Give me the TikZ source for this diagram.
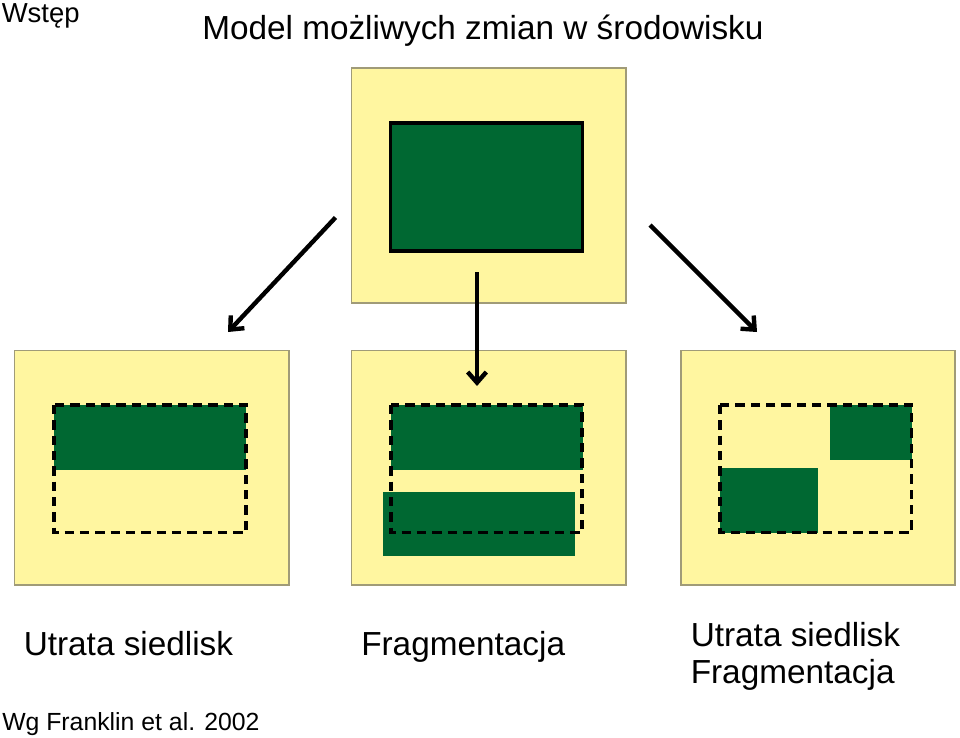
\documentclass[tikz,border=0pt]{standalone}
\usepackage{fontspec}
\setmainfont{Liberation Sans}
\usetikzlibrary{arrows.meta}
\definecolor{habyellow}{RGB}{255,246,160}
\definecolor{habgreen}{RGB}{0,104,50}
\definecolor{panelborder}{RGB}{160,155,120}
\begin{document}
\begin{tikzpicture}[x=0.75pt,y=-0.75pt,
  panel/.style={fill=habyellow,draw=panelborder,line width=0.8pt},
  habitat/.style={fill=habgreen,draw=none},
  extent/.style={draw=black,line width=2.6pt,dash pattern=on 7pt off 4.5pt},
  change/.style={line width=3.3pt,-{Straight Barb[length=8pt,width=14pt,line width=3.3pt]}},
  bigtext/.style={font=\fontsize{25}{30}\selectfont,inner sep=0pt,anchor=base west},
  lbl/.style={inner sep=0pt,anchor=base west}]
\useasboundingbox (0,0) rectangle (960,738);
\fill[white] (0,0) rectangle (960,738);
% top panel
\draw[panel] (351.5,68) rectangle (626,303);
\draw[fill=habgreen,draw=black,line width=2.6pt] (390.5,123) rectangle (582.5,251);
% bottom-left panel
\draw[panel] (14.5,350.5) rectangle (289,585);
\fill[habitat] (54,405) rectangle (246,469.5);
\draw[extent] (54,405) rectangle (246,532.5);
% bottom-middle panel
\draw[panel] (351.5,350.5) rectangle (626,585);
\fill[habitat] (391,405) rectangle (582.5,470);
\fill[habitat] (383,491.5) rectangle (575,556);
\draw[extent] (391,405) rectangle (582,532.5);
% bottom-right panel
\draw[panel] (681,350.5) rectangle (955,585);
\fill[habitat] (829.5,405) rectangle (911.5,459.5);
\fill[habitat] (720,468) rectangle (817.5,532.5);
\draw[extent] (720,405) rectangle (911.5,532.5);
% arrows
\coordinate (l0) at (335.5,217.5);
\coordinate (l1) at (228,332);
\coordinate (m0) at (477,272);
\coordinate (m1) at (477,386);
\coordinate (r0) at (650,225);
\coordinate (r1) at (757,332);
\draw[change] (l0) -- (l1);
\draw[change] (m0) -- (m1);
\draw[change] (r0) -- (r1);
% texts
\node[lbl,font=\fontsize{20.6}{24}\selectfont] (wstep) at (1.5,23) {Wstęp};
\node[bigtext] (title) at (202,39.5) {Model możliwych zmian w środowisku};
\node[bigtext] (t1) at (23.5,655) {Utrata siedlisk};
\node[bigtext] (t2) at (361,655) {Fragmentacja};
\node[bigtext] (t3a) at (690.5,646) {Utrata siedlisk};
\node[bigtext] (t3b) at (690.5,683) {Fragmentacja};
\node[lbl,font=\fontsize{18.6}{22}\selectfont] (src) at (2,730) {Wg Franklin et al. 2002};
\end{tikzpicture}
\end{document}
